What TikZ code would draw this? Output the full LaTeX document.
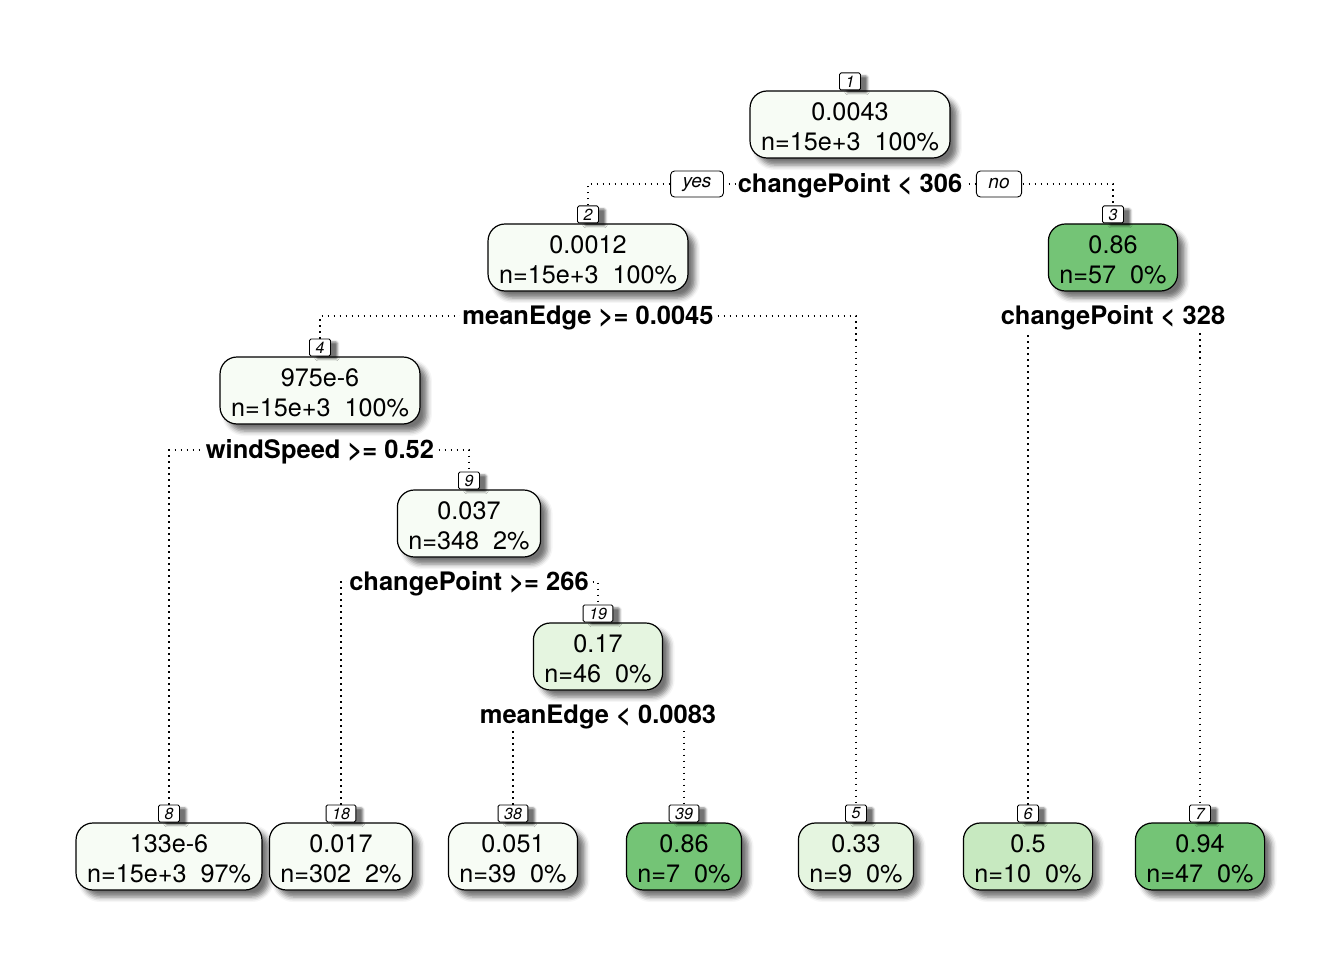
\documentclass[tikz,border=0pt]{standalone}
\usepackage{fontspec}
\setmainfont{TeX Gyre Heros}
\usetikzlibrary{shadows.blur}
\definecolor{g0}{HTML}{F7FCF5}
\definecolor{g1}{HTML}{E5F5E0}
\definecolor{g2}{HTML}{C7E9C0}
\definecolor{g4}{HTML}{74C476}
\newcommand{\tstrut}{\rule{0pt}{22.5pt}}
\tikzset{
  tnode/.style={draw, line width=1.2pt, rounded corners=17pt, align=center,
    inner xsep=11pt, inner ysep=0pt, minimum height=67pt,
    font=\fontsize{25.2}{30}\selectfont,
    blur shadow={shadow xshift=7pt, shadow yshift=-7pt, shadow blur radius=5pt, shadow opacity=55}},
  numbox/.style={draw, fill=white, line width=0.9pt, rounded corners=1.5pt,
    inner xsep=6pt, inner ysep=0pt, minimum width=21pt, minimum height=17pt,
    font=\itshape\fontsize{16}{16}\selectfont, anchor=south,
    blur shadow={shadow xshift=7pt, shadow yshift=-3pt, shadow blur radius=2pt, shadow opacity=55}},
  split/.style={fill=white, inner sep=2pt, font=\bfseries\fontsize{25.5}{30}\selectfont},
  yesno/.style={draw, fill=white, line width=0.9pt, rounded corners=4pt,
    inner xsep=12pt, inner ysep=0pt, minimum height=26pt,
    font=\itshape\fontsize{19}{19}\selectfont},
  conn/.style={line width=1.2pt, dash pattern=on 1.2pt off 4.8pt}
}
\begin{document}
\begin{tikzpicture}[x=1pt,y=-1pt]
\useasboundingbox (0,0) rectangle (1344,960);
% tree nodes
\node[tnode, fill=g0] (n1) at (850,124.5) {\tstrut 0.0043\\n=15e+3\ \ 100\%};
\node[tnode, fill=g0] (n2) at (588,257.5) {\tstrut 0.0012\\n=15e+3\ \ 100\%};
\node[tnode, fill=g4] (n3) at (1113,257.5) {\tstrut 0.86\\n=57\ \ 0\%};
\node[tnode, fill=g0] (n4) at (320,390.5) {\tstrut 975e-6\\n=15e+3\ \ 100\%};
\node[tnode, fill=g0] (n9) at (469,523.5) {\tstrut 0.037\\n=348\ \ 2\%};
\node[tnode, fill=g1] (n19) at (598,656.5) {\tstrut 0.17\\n=46\ \ 0\%};
\node[tnode, fill=g0] (n8) at (169,856.5) {\tstrut 133e-6\\n=15e+3\ \ 97\%};
\node[tnode, fill=g0] (n18) at (341,856.5) {\tstrut 0.017\\n=302\ \ 2\%};
\node[tnode, fill=g0] (n38) at (513,856.5) {\tstrut 0.051\\n=39\ \ 0\%};
\node[tnode, fill=g4] (n39) at (684,856.5) {\tstrut 0.86\\n=7\ \ 0\%};
\node[tnode, fill=g1] (n5) at (856,856.5) {\tstrut 0.33\\n=9\ \ 0\%};
\node[tnode, fill=g2] (n6) at (1028,856.5) {\tstrut 0.5\\n=10\ \ 0\%};
\node[tnode, fill=g4] (n7) at (1200,856.5) {\tstrut 0.94\\n=47\ \ 0\%};
% number boxes
\node[numbox] (b1) at (n1.north) {1};
\node[numbox] (b2) at (n2.north) {2};
\node[numbox] (b3) at (n3.north) {3};
\node[numbox] (b4) at (n4.north) {4};
\node[numbox] (b9) at (n9.north) {9};
\node[numbox] (b19) at (n19.north) {19};
\node[numbox] (b8) at (n8.north) {8};
\node[numbox] (b18) at (n18.north) {18};
\node[numbox] (b38) at (n38.north) {38};
\node[numbox] (b39) at (n39.north) {39};
\node[numbox] (b5) at (n5.north) {5};
\node[numbox] (b6) at (n6.north) {6};
\node[numbox] (b7) at (n7.north) {7};
% split coordinates
\coordinate (c1) at (850,184);
\coordinate (c2) at (588,316);
\coordinate (c3) at (1113,316);
\coordinate (c4) at (320,450);
\coordinate (c9) at (469,582);
\coordinate (c19) at (598,715);
% connectors
\draw[conn] (b2.north) |- (c1) -| (b3.north);
\draw[conn] (b4.north) |- (c2) -| (b5.north);
\draw[conn] (b6.north) |- (c3) -| (b7.north);
\draw[conn] (b8.north) |- (c4) -| (b9.north);
\draw[conn] (b18.north) |- (c9) -| (b19.north);
\draw[conn] (b38.north) |- (c19) -| (b39.north);
% split labels
\node[split] (s1) at ([yshift=-1.5pt]c1) {changePoint < 306};
\node[split] (s2) at ([yshift=-1.5pt]c2) {meanEdge >= 0.0045};
\node[split] (s3) at ([yshift=-1.5pt]c3) {changePoint < 328};
\node[split] (s4) at ([yshift=-1.5pt]c4) {windSpeed >= 0.52};
\node[split] (s9) at ([yshift=-1.5pt]c9) {changePoint >= 266};
\node[split] (s19) at ([yshift=-1.5pt]c19) {meanEdge < 0.0083};
\node[yesno] (yes) at (697,184) {yes};
\node[yesno] (no) at (999,184) {no};
\end{tikzpicture}
\end{document}
